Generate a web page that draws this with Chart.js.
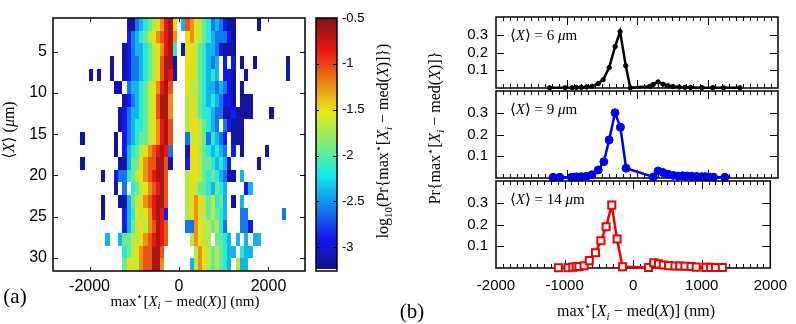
<!DOCTYPE html>
<html>
<head>
<meta charset="utf-8">
<script src="https://cdn.jsdelivr.net/npm/chart.js@4.4.0/dist/chart.umd.min.js"></script>
<style>
  html, body { margin: 0; padding: 0; background: #fff; }
  #wrap { position: relative; width: 796px; height: 324px; }
  #wrap canvas { position: absolute; left: 0; top: 0; }
</style>
</head>
<body>
<div id="wrap">
  <canvas id="heat" width="796" height="324"></canvas>
  <canvas id="cbar" width="796" height="324"></canvas>
  <canvas id="p1" width="796" height="324"></canvas>
  <canvas id="p2" width="796" height="324"></canvas>
  <canvas id="p3" width="796" height="324"></canvas>
</div>
<script>
// ---------------- data: panel (a) heat map ----------------
// bin centres along max*[X_i - med(X)] (nm)
const heatBinsNm = [-2159,-2065,-1971,-1877,-1784,-1690,-1596,-1502,-1408,-1314,-1220,-1126,-1033,-939,-845,-751,-657,-563,-469,-375,-282,-188,-94,0,94,188,282,375,469,563,657,751,845,939,1033,1126,1220,1314,1408,1502,1596,1690,1784,1877,1971,2065,2159,2253,2347,2441,2534];
const heatBinWidth = 93.87;
// row centres along <X> (um)
const heatRowsUm = [1.67,3.20,4.74,6.27,7.81,9.34,10.88,12.41,13.95,15.48,17.02,18.55,20.09,21.62,23.16,24.69,26.23,27.76,29.30,30.83];
const heatRowHeight = 1.535;
// log10 probability levels, one letter per cell ('.' = empty)
const heatLevels = { a:-3.15, b:-2.9, c:-2.6, d:-2.4, e:-2.15, f:-1.95, g:-1.7, h:-1.5, i:-1.25, j:-1.05, k:-0.85, l:-0.65 };
const heatRows = [
  "...........aacdefghiklh.djihgfecdcbaa.....a........",
  "...........bcdefghijkli..hihgfedcccba..............",
  "..........abcddefghikle.ahhgfeddcbaaa..............",
  ".......a..abccdefghjlla..hhgfedcd.b.b.a..a.......a.",
  "..a.a..a..abccdefghjlka..hhgfeded.bba..a.........a.",
  "........aa.cddefghiklj...hggfeddcdcba.a............",
  "..........abcdefghjlli...ghgfededcbba.aaa..........",
  ".........abcddefghjlli...ghgfeedccaabaaaa....a.....",
  ".........abcdeefghiklj...ghhgfedc.cbaaa............",
  "a.......a.bcdeffghiklj...cghgfcedcb.aaa............",
  "........a.bdefghijklkc...ahhgfededc.b.a.....a......",
  "a........aadffhijjllja...bhhgffededb......a........",
  ".....a..bccefghijkllj....ghhgfefedcaa.d............",
  "........a.c.efghijklj....ghgffedfed....bd..........",
  ".....a...aadfghijkllj....ghihgfgefd.a.d............",
  ".....a....bdehghiklkb....ghihgfgfed...cc........c..",
  "..........bdfghgijlkj....ccihggfgec...ccb..........",
  "......d..dffgghijklkj.....gihgg.ffed.d.d.dd........",
  "..........efghijjllj.......gihgfgfedd.edd..........",
  "..........fhhgijjlli......dgihgfgfed.gdd..........."
];
const heatXTicks = [-2000, 0, 2000];
const heatYTicks = [5, 10, 15, 20, 25, 30];
const cbarTicks = [-0.5, -1, -1.5, -2, -2.5, -3];
const cmapMin = -3.26, cmapMax = -0.5;

// ---------------- data: panel (b) profiles ----------------
const x6um  = [-1240,-1020,-920,-860,-790,-715,-640,-550,-480,-395,-310,-240,-160,-95,185,230,300,370,440,510,600,680,760,920,1075,1225,1460];
const p6um  = [0.001,0.001,0.002,0.003,0.004,0.006,0.009,0.025,0.047,0.115,0.234,0.318,0.126,0.001,0.010,0.020,0.034,0.021,0.013,0.008,0.005,0.004,0.003,0.002,0.002,0.001,0.001];
const x9um  = [-1190,-1095,-930,-880,-850,-790,-715,-640,-550,-470,-395,-312,-235,-155,230,300,370,440,515,585,650,705,775,845,915,965,1010,1085,1245];
const p9um  = [0.003,0.003,0.003,0.004,0.005,0.006,0.008,0.015,0.037,0.075,0.175,0.300,0.233,0.045,0.005,0.032,0.025,0.017,0.012,0.009,0.010,0.009,0.008,0.007,0.006,0.006,0.005,0.004,0.003];
const x14um = [-1090,-950,-880,-830,-790,-715,-640,-550,-470,-395,-312,-235,-155,225,300,370,440,515,610,680,755,845,920,1060,1130,1200,1300];
const p14um = [0.001,0.001,0.004,0.006,0.007,0.010,0.034,0.070,0.125,0.190,0.289,0.133,0.006,0.002,0.024,0.019,0.014,0.011,0.009,0.009,0.008,0.007,0.004,0.003,0.003,0.002,0.002];
const profXTicks = [-2000, -1000, 0, 1000, 2000];
const profYTicks = [0.1, 0.2, 0.3];

// ---------------- helpers ----------------
const FONT_SANS = '"Liberation Sans", Arial, sans-serif';
const FONT_SERIF = '"Liberation Serif", "DejaVu Serif", serif';
Chart.defaults.font.family = FONT_SANS;
Chart.defaults.color = '#000';

// jet colour map, toned down a little like the printed figure
function jet(v) {
  const t = Math.min(1, Math.max(0, (v - cmapMin) / (cmapMax - cmapMin)));
  const c = (u, g) => Math.round(0.84 * 255 * Math.min(1, Math.max(0, 1.5 - Math.abs(u))) + 0.16 * g);
  return 'rgb(' + c(4 * t - 3, 120) + ',' + c(4 * t - 2, 125) + ',' + c(4 * t - 1, 135) + ')';
}

// cell edges: half way between neighbouring centres, half a step at the ends
function edgesOf(centres, step) {
  const e = [centres[0] - step / 2];
  for (let i = 1; i < centres.length; i++) e.push((centres[i - 1] + centres[i]) / 2);
  e.push(centres[centres.length - 1] + step / 2);
  return e;
}
const heatXEdges = edgesOf(heatBinsNm, heatBinWidth);
const heatYEdges = edgesOf(heatRowsUm, heatRowHeight);

// draw a label made of roman / italic / sub / sup pieces
// kinds: r roman, i italic, b roman subscript, s italic subscript, p superscript
function drawMath(ctx, parts, x, y, size, rot, align) {
  ctx.save();
  ctx.translate(x, y);
  ctx.rotate(rot || 0);
  const small = k => k === 'b' || k === 's' || k === 'p';
  const fontFor = k => ((k === 'i' || k === 's') ? 'italic ' : '') +
    (small(k) ? Math.round(size * 0.7) : size) + 'px ' + FONT_SERIF;
  const widths = parts.map(p => { ctx.font = fontFor(p[1]); return ctx.measureText(p[0]).width; });
  const total = widths.reduce((a, b) => a + b, 0);
  let cx = align === 'left' ? 0 : -total / 2;
  ctx.fillStyle = '#000';
  ctx.textBaseline = 'alphabetic';
  const base = size * 0.32;
  parts.forEach((p, i) => {
    ctx.font = fontFor(p[1]);
    let dy = 0;
    if (p[1] === 'b' || p[1] === 's') dy = size * 0.22;
    if (p[1] === 'p') dy = -size * 0.38;
    ctx.fillText(p[0], cx, base + dy);
    cx += widths[i];
  });
  ctx.restore();
}

const maxLabel = [['max', 'r'], ['\u22c6', 'p'], ['[', 'r'], ['X', 'i'], ['i', 's'], [' \u2212 med(', 'r'], ['X', 'i'], [')] (nm)', 'r']];

function fixTicks(list) {
  return s => { s.ticks = list.map(v => ({ value: v })); };
}

function axis(o) {
  return Object.assign({
    type: 'linear',
    grid: { display: false, drawTicks: false },
    border: { display: false }
  }, o);
}

function tickFont(size, pad, show) {
  return { display: show !== false, color: '#000', font: { size: size, family: FONT_SANS }, padding: pad,
    autoSkip: false, maxRotation: 0, callback: v => String(v) };
}

// frame plus inward ticks on all four sides
function drawFrame(chart, xt, yt) {
  const { ctx, chartArea: a, scales: { x, y } } = chart;
  ctx.save();
  ctx.strokeStyle = '#000';
  ctx.lineWidth = 1;
  ctx.beginPath();
  xt.forEach(t => {
    const px = Math.round(x.getPixelForValue(t[0])) + 0.5;
    ctx.moveTo(px, a.top); ctx.lineTo(px, a.top + t[1]);
    ctx.moveTo(px, a.bottom); ctx.lineTo(px, a.bottom - t[1]);
  });
  yt.forEach(t => {
    const py = Math.round(y.getPixelForValue(t[0])) + 0.5;
    ctx.moveTo(a.left, py); ctx.lineTo(a.left + t[1], py);
    ctx.moveTo(a.right, py); ctx.lineTo(a.right - t[1], py);
  });
  ctx.stroke();
  ctx.lineWidth = 1.5;
  ctx.strokeRect(a.left, a.top, a.right - a.left, a.bottom - a.top);
  ctx.restore();
}

function baseOptions(pad, scales) {
  return {
    responsive: false, animation: false, events: [],
    layout: { padding: pad },
    plugins: { legend: { display: false }, tooltip: { enabled: false } },
    scales: scales
  };
}

// ---------------- (a) heat map ----------------
const heatCells = [];
heatRows.forEach((row, r) => {
  for (let j = 0; j < row.length; j++) {
    const ch = row[j];
    if (ch !== '.') heatCells.push({ x: heatBinsNm[j], y: heatRowsUm[r], v: heatLevels[ch], col: j, row: r });
  }
});

new Chart(document.getElementById('heat'), {
  type: 'scatter',
  data: { datasets: [{ data: heatCells, pointRadius: 0 }] },
  options: baseOptions({ left: 8, top: 18, right: 491, bottom: 13 }, {
    x: axis({ min: -2816, max: 2816, afterBuildTicks: fixTicks(heatXTicks),
      afterFit: s => { s.height = 40; }, ticks: tickFont(16, 6) }),
    y: axis({ min: 0.9, max: 31.6, reverse: true, afterBuildTicks: fixTicks(heatYTicks),
      afterFit: s => { s.width = 45; }, ticks: tickFont(16, 6) })
  }),
  plugins: [{
    id: 'heatCells',
    beforeDatasetsDraw(chart) {
      const { ctx, chartArea: a, scales: { x, y } } = chart;
      ctx.save();
      ctx.beginPath(); ctx.rect(a.left, a.top, a.right - a.left, a.bottom - a.top); ctx.clip();
      chart.data.datasets[0].data.forEach(c => {
        const x0 = Math.round(x.getPixelForValue(heatXEdges[c.col]));
        const x1 = Math.round(x.getPixelForValue(heatXEdges[c.col + 1]));
        const y0 = Math.round(y.getPixelForValue(heatYEdges[c.row]));
        const y1 = Math.round(y.getPixelForValue(heatYEdges[c.row + 1]));
        ctx.fillStyle = jet(c.v);
        ctx.fillRect(Math.min(x0, x1), Math.min(y0, y1), Math.abs(x1 - x0), Math.abs(y1 - y0));
      });
      ctx.restore();
    },
    afterDraw(chart) {
      drawFrame(chart, heatXTicks.map(v => [v, 4]), heatYTicks.map(v => [v, 5]));
      const ctx = chart.ctx;
      drawMath(ctx, maxLabel, 185, 301, 15, 0);
      drawMath(ctx, [['\u27e8', 'r'], ['X', 'i'], ['\u27e9 (', 'r'], ['\u03bc', 'i'], ['m)', 'r']], 9, 130, 16, -Math.PI / 2);
      drawMath(ctx, [['(a)', 'r']], 15, 296, 21, 0);
    }
  }]
});

// ---------------- colour bar ----------------
new Chart(document.getElementById('cbar'), {
  type: 'scatter',
  data: { datasets: [{ data: [] }] },
  options: baseOptions({ left: 316, top: 18, right: 419, bottom: 53 }, {
    x: axis({ display: false, min: 0, max: 1 }),
    y: axis({ position: 'right', min: cmapMin, max: cmapMax, afterBuildTicks: fixTicks(cbarTicks),
      afterFit: s => { s.width = 40; }, ticks: tickFont(13, 5) })
  }),
  plugins: [{
    id: 'cbarFill',
    beforeDatasetsDraw(chart) {
      const { ctx, chartArea: a, scales: { y } } = chart;
      ctx.save();
      for (let py = Math.floor(a.top); py < a.bottom; py++) {
        const v = y.getValueForPixel(py + 0.5);
        ctx.fillStyle = v < -3.235 ? '#fff' : jet(v);
        ctx.fillRect(a.left, py, a.right - a.left, 1);
      }
      ctx.restore();
    },
    afterDraw(chart) {
      const { ctx, chartArea: a, scales: { y } } = chart;
      ctx.save();
      ctx.strokeStyle = '#000';
      ctx.lineWidth = 1;
      ctx.beginPath();
      cbarTicks.forEach(v => {
        const py = Math.round(y.getPixelForValue(v)) + 0.5;
        ctx.moveTo(a.right, py); ctx.lineTo(a.right - 4, py);
        ctx.moveTo(a.left, py); ctx.lineTo(a.left + 3, py);
      });
      ctx.stroke();
      ctx.lineWidth = 1.5;
      ctx.strokeRect(a.left, a.top, a.right - a.left, a.bottom - a.top);
      ctx.restore();
      drawMath(ctx, [['log', 'r'], ['10', 'b'], ['(Pr{max', 'r'], ['\u22c6', 'p'], ['[', 'r'], ['X', 'i'], ['i', 's'],
        [' \u2212 med(', 'r'], ['X', 'i'], [')]})', 'r']], 383, 141, 16, -Math.PI / 2);
    }
  }]
});

// ---------------- (b) profiles ----------------
function profileChart(id, top, bottom, xs, ys, style, showX, tag, extra) {
  const pts = xs.map((v, i) => ({ x: v, y: ys[i] }));
  const minor = [];
  for (let v = -1900; v <= 1900; v += 100) minor.push([v, v % 1000 === 0 ? 8 : 4]);
  return new Chart(document.getElementById(id), {
    type: 'scatter',
    data: { datasets: [Object.assign({ data: pts, showLine: true, clip: false }, style)] },
    options: baseOptions({ left: 456, top: top, right: 18, bottom: showX ? 324 - bottom - 40 : 324 - bottom }, {
      x: axis({ min: -2000, max: 2000, afterBuildTicks: fixTicks(profXTicks),
        afterFit: s => { s.height = showX ? 40 : 0; }, ticks: tickFont(15, 9, showX) }),
      y: axis({ min: 0, max: 0.4, afterBuildTicks: fixTicks(profYTicks),
        afterFit: s => { s.width = 40; }, ticks: tickFont(15, 8) })
    }),
    plugins: [{
      id: 'profFrame',
      beforeDatasetsDraw(chart) {
        drawFrame(chart, minor, profYTicks.map(v => [v, 8]));
        drawMath(chart.ctx, [['\u27e8', 'r'], ['X', 'i'], ['\u27e9 = ' + tag + ' ', 'r'], ['\u03bc', 'i'], ['m', 'r']],
          chart.chartArea.left + 14, chart.chartArea.top + 18, 15, 0, 'left');
      },
      afterDraw(chart) { if (extra) extra(chart.ctx); }
    }]
  });
}

profileChart('p1', 1, 88, x6um, p6um,
  { borderColor: '#000', borderWidth: 2.5, pointRadius: 2.2, pointBackgroundColor: '#000', pointBorderColor: '#000', pointBorderWidth: 1 },
  false, '6');
profileChart('p2', 91, 178, x9um, p9um,
  { borderColor: '#0000e6', borderWidth: 2.5, pointRadius: 4, pointBackgroundColor: '#0000e6', pointBorderColor: '#0000e6', pointBorderWidth: 1 },
  false, '9');
profileChart('p3', 181, 268, x14um, p14um,
  { borderColor: '#ee0000', borderWidth: 2.5, pointStyle: 'rect', pointRadius: 5, pointBackgroundColor: '#fff', pointBorderColor: '#ee0000', pointBorderWidth: 2 },
  true, '14', ctx => {
    drawMath(ctx, maxLabel, 636, 311, 16, 0);
    drawMath(ctx, [['Pr{max', 'r'], ['\u22c6', 'p'], ['[', 'r'], ['X', 'i'], ['i', 's'], [' \u2212 med(', 'r'], ['X', 'i'], [')]}', 'r']],
      435, 128, 16, -Math.PI / 2);
    drawMath(ctx, [['(b)', 'r']], 412, 311, 21, 0);
  });
</script>
</body>
</html>
